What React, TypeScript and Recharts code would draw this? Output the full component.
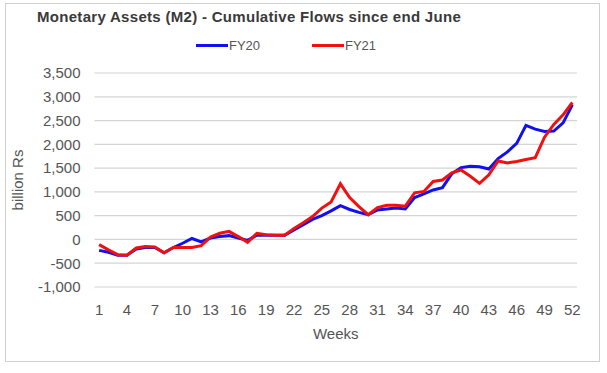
import React from "react";
import { LineChart, Line, XAxis, YAxis, CartesianGrid, Label } from "recharts";

const weeks: number[] = Array.from({ length: 52 }, (_, i) => i + 1);

const fy20: number[] = [
  -230, -270, -330, -330, -200, -170, -170, -280, -170, -80,
  20, -50, 30, 60, 80, 30, -20, 90, 90, 90,
  90, 200, 310, 420, 500, 600, 710, 630, 570, 520,
  620, 640, 660, 640, 880, 960, 1040, 1090, 1380, 1510,
  1540, 1530, 1480, 1700, 1840, 2020, 2400, 2320, 2270, 2280,
  2450, 2830,
];

const fy21: number[] = [
  -110, -220, -320, -330, -180, -150, -160, -280, -170, -170,
  -170, -130, 50, 130, 170, 60, -60, 130, 100, 90,
  90, 230, 350, 480, 660, 790, 1170, 880, 690, 520,
  670, 720, 720, 700, 980, 1010, 1220, 1250, 1400, 1460,
  1330, 1180, 1360, 1650, 1610, 1640, 1680, 1720, 2150, 2420,
  2620, 2880,
];

const xTicks: number[] = [1, 4, 7, 10, 13, 16, 19, 22, 25, 28, 31, 34, 37, 40, 43, 46, 49, 52];
const yTicks: number[] = [-1000, -500, 0, 500, 1000, 1500, 2000, 2500, 3000, 3500];

const seriesNames = ["FY20", "FY21"];
const seriesColors = ["#1010f0", "#f01010"];

const data = weeks.map((w, i) => ({ week: w, FY20: fy20[i], FY21: fy21[i] }));

const FONT = "'Liberation Sans', Arial, sans-serif";
const TXT = "#555555";

export default function App() {
  return (
    <div
      style={{
        position: "absolute",
        left: 0,
        top: 0,
        width: 607,
        height: 373,
        background: "#fff",
        fontFamily: FONT,
      }}
    >
      <div
        style={{
          position: "absolute",
          left: 5,
          top: 3,
          width: 595,
          height: 359,
          border: "1px solid #d0d0d0",
          boxSizing: "border-box",
        }}
      />
      <div
        style={{
          position: "absolute",
          left: 37,
          top: 8,
          fontSize: 15,
          fontWeight: "bold",
          color: "#3a3a3a",
          whiteSpace: "nowrap",
          letterSpacing: 0.3,
        }}
      >
        Monetary Assets (M2) - Cumulative Flows since end June
      </div>
      {seriesNames.map((n, i) => (
        <div
          key={n}
          style={{
            position: "absolute",
            left: 196 + i * 116,
            top: 38,
            display: "flex",
            alignItems: "center",
            fontSize: 13,
            color: TXT,
          }}
        >
          <span
            style={{
              display: "inline-block",
              width: 32,
              height: 3,
              background: seriesColors[i],
              marginRight: 1,
            }}
          />
          {n}
        </div>
      ))}
      <div style={{ position: "absolute", left: 0, top: 0 }}>
        <LineChart
          width={607}
          height={373}
          data={data}
          margin={{ top: 73, right: 30, bottom: 56, left: 0 }}
        >
          <CartesianGrid vertical={false} stroke="#d4d4d4" strokeWidth={1.2} />
          <XAxis
            dataKey="week"
            type="number"
            domain={[0.5, 52.5]}
            ticks={xTicks}
            interval={0}
            axisLine={false}
            tickLine={false}
            tickMargin={11}
            height={30}
            tick={{ fill: TXT, fontSize: 15, fontFamily: FONT }}
          >
            <Label
              value="Weeks"
              position="insideBottom"
              offset={-22}
              style={{ fill: TXT, fontSize: 15, fontFamily: FONT }}
            />
          </XAxis>
          <YAxis
            type="number"
            domain={[-1000, 3500]}
            ticks={yTicks}
            interval={0}
            width={94.5}
            axisLine={false}
            tickLine={false}
            tickMargin={8}
            tickFormatter={(v: number) => v.toLocaleString("en-US")}
            tick={{ fill: TXT, fontSize: 15, fontFamily: FONT }}
          >
            <Label
              value="billion Rs"
              angle={-90}
              position="insideLeft"
              offset={18}
              style={{ fill: TXT, fontSize: 15, fontFamily: FONT, textAnchor: "middle" }}
            />
          </YAxis>
          <Line
            dataKey="FY20"
            stroke={seriesColors[0]}
            strokeWidth={3}
            dot={false}
            isAnimationActive={false}
          />
          <Line
            dataKey="FY21"
            stroke={seriesColors[1]}
            strokeWidth={3}
            dot={false}
            isAnimationActive={false}
          />
        </LineChart>
      </div>
    </div>
  );
}
